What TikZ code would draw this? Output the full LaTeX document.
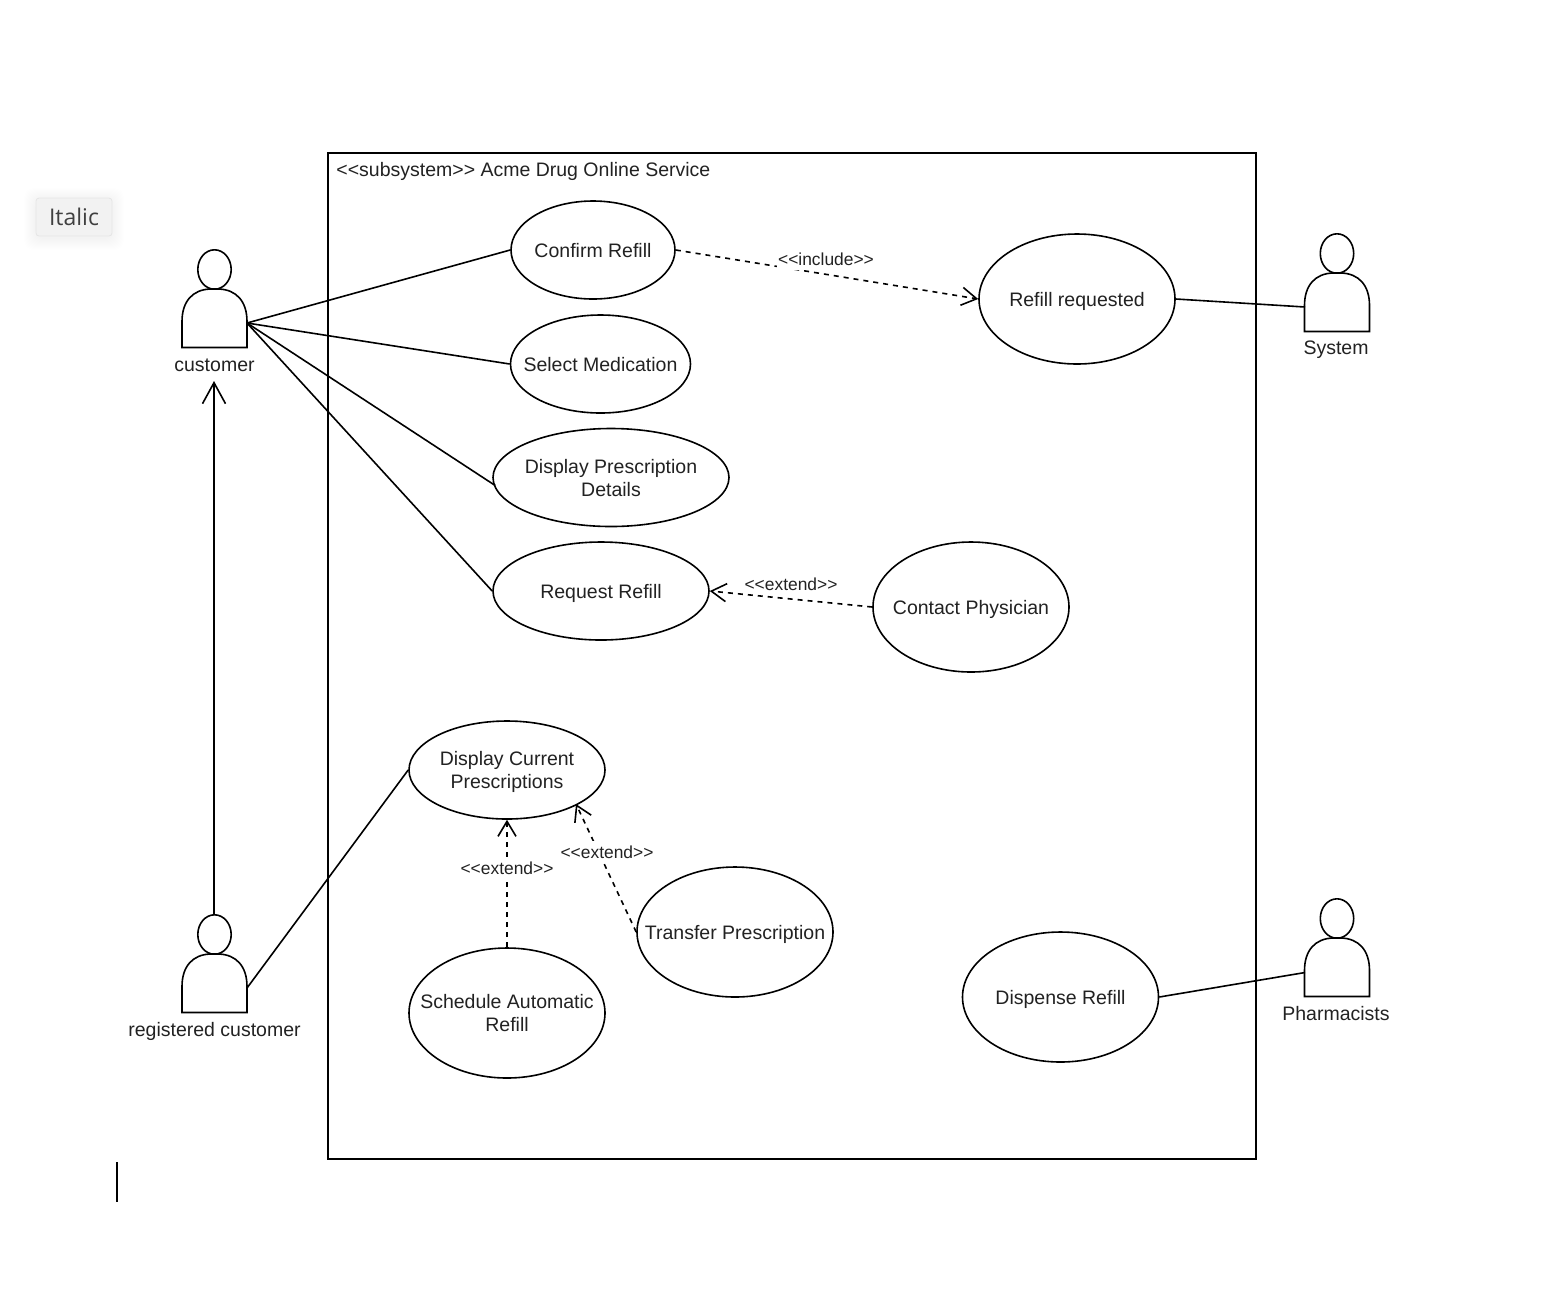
\documentclass[tikz,border=0pt]{standalone}
\usepackage{fontspec}
\setmainfont{Liberation Sans}
\newfontfamily\uifont{Open Sans}
\usetikzlibrary{shapes.geometric,arrows.meta,calc}
\definecolor{ink}{HTML}{222222}
\newcommand{\dn}[2][1pt]{\raisebox{-#1}[\height][\depth]{#2}}
\tikzset{
  x=0.5pt,y=-0.5pt,
  ln/.style={line width=0.8pt,draw=black},
  usecase/.style={ellipse,ln,inner sep=-40pt,minimum width=#1*0.5pt,fill=white,align=center,font=\fontsize{9.75}{11.5}\selectfont,text=ink},
  usecase/.default=196,
  dep/.style={ln,dash pattern=on 2.5pt off 2.5pt,-{Straight Barb[length=7.5pt,width=9pt,line width=0.8pt]}},
  dlabel/.style={fill=white,inner sep=0.5pt,minimum height=11pt,font=\fontsize{8.7}{10}\selectfont,text=ink},
  alabel/.style={inner sep=0pt,font=\fontsize{9.75}{11.5}\selectfont,text=ink},
  body/.style={ln,fill=white},
}
\newcommand{\actorshape}[2]{%
  \draw[ln] (#1,#2) ellipse [x radius=16.7,y radius=19.7];
  \draw[body] (#1-32.5,#2+78) -- (#1-32.5,#2+52)
    .. controls (#1-32.5,#2+32) and (#1-22,#2+20) .. (#1-4,#2+19.5)
    -- (#1+4,#2+19.5)
    .. controls (#1+22,#2+20) and (#1+32.5,#2+32) .. (#1+32.5,#2+52)
    -- (#1+32.5,#2+78) -- cycle;
}
\begin{document}
\begin{tikzpicture}
\useasboundingbox (0,0) rectangle (1558,1292);
% tooltip
\foreach \s in {12,11,...,1}{
  \fill[black,opacity=0.004,rounded corners=5pt] (36-\s,198-\s+2) rectangle (112+\s,236+\s+2);
}
\node[draw=black!10,line width=0.4pt,fill=black!5,rounded corners=1.5pt,minimum width=38pt,minimum height=19pt,inner sep=0pt,text=black!75,font=\uifont\fontsize{11.5}{13}\selectfont] (tip) at (74,217) {Italic};
% subsystem frame
\node[ln,draw,minimum width=464pt,minimum height=503pt,inner sep=0pt] (frame) at (792,656) {};
\node[alabel,anchor=west] (title) at (336,171) {<{}<subsystem>{}> Acme Drug Online Service};
% use cases
\node[usecase=164,minimum height=49pt] (confirm) at (593,250) {\dn[0.5pt]{Confirm Refill}};
\node[usecase=180,minimum height=49pt] (select) at (600.5,364) {\dn[0.5pt]{Select Medication}};
\node[usecase=236,minimum height=49pt] (details) at (611,477.5) {\dn[0.5pt]{Display Prescription}\\\dn[0.5pt]{Details}};
\node[usecase=216,minimum height=49pt] (request) at (601,591) {\dn{Request Refill}};
\node[usecase=196,minimum height=65pt] (refill) at (1077,299) {\dn{Refill requested}};
\node[usecase=196,minimum height=65pt] (contact) at (971,607) {\dn{Contact Physician}};
\node[usecase=196,minimum height=49pt] (current) at (507,770) {\dn{Display Current}\\\dn{Prescriptions}};
\node[usecase=196,minimum height=65pt] (transfer) at (735,932) {\dn{Transfer Prescription}};
\node[usecase=196,minimum height=65pt] (schedule) at (507,1013) {\dn[0.1pt]{Schedule Automatic}\\\dn[0.1pt]{Refill}};
\node[usecase=196,minimum height=65pt] (dispense) at (1060.5,997) {\dn{Dispense Refill}};
% actors
\actorshape{214.5}{269.5}
\actorshape{214.5}{934.5}
\actorshape{1337}{253.5}
\actorshape{1337}{918.5}
\coordinate (custE) at (247,323);
\coordinate (regE) at (247,988);
\coordinate (sysW) at (1305,307);
\coordinate (phaW) at (1305,972.5);
\coordinate (regN) at (214,915);
\coordinate (custS) at (214,381);
\node[alabel] (customer) at (214.5,365) {customer};
\node[alabel] (registered) at (214.5,1031.5) {registered customer};
\node[alabel] (system) at (1336,350) {System};
\node[alabel] (pharm) at (1336,1014) {Pharmacists};
% associations
\draw[ln] (custE) -- (confirm.west);
\draw[ln] (custE) -- (select.west);
\draw[ln] (custE) -- ($(details.west)+(3,8)$);
\draw[ln] (custE) -- (request.west);
\draw[ln] (regE) -- (current.west);
\draw[ln] (refill.east) -- (sysW);
\draw[ln] (dispense.east) -- (phaW);
\draw[ln,-{Straight Barb[length=10.5pt,width=11.5pt,line width=0.8pt]}] (regN) -- (custS);
% dependencies
\draw[dep] (confirm.east) -- (refill.west);
\node[dlabel] (inc) at (826,259) {<{}<include>{}>};
\draw[dep] (contact.west) -- (request.east);
\node[dlabel,fill=none] (ext1) at (791,584) {<{}<extend>{}>};
\draw[dep] (schedule.north) -- (current.south);
\node[dlabel] (ext2) at (507,868) {<{}<extend>{}>};
\draw[dep] (transfer.west) -- ($(current.center)+(69,34)$);
\node[dlabel] (ext3) at (607,852) {<{}<extend>{}>};
% text cursor
\coordinate (c1) at (117,1162);
\coordinate (c2) at (117,1202);
\draw[line width=0.9pt,black] (c1) -- (c2);
\end{tikzpicture}
\end{document}
